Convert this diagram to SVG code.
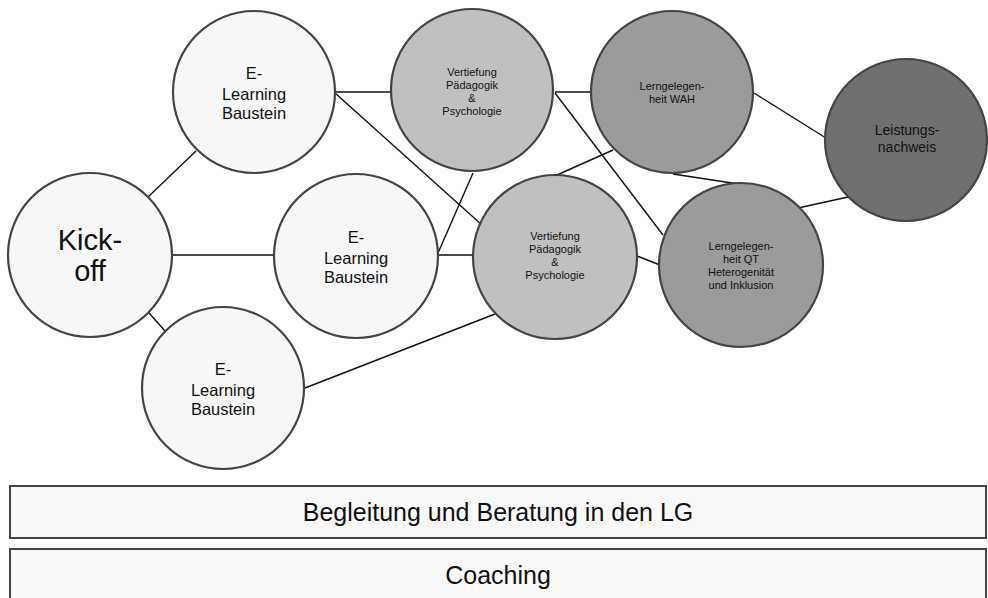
<svg xmlns="http://www.w3.org/2000/svg" width="988" height="598" viewBox="0 0 988 598">
<style>
  text { font-family: "Liberation Sans", Arial, sans-serif; fill: #111; text-anchor: middle; }
  .node { stroke: #444; stroke-width: 2.2; }
  .white { fill: #f7f7f7; }
  .light { fill: #c0c0c0; }
  .mid { fill: #9b9b9b; }
  .dark { fill: #6f6f6f; }
  .conn line { stroke: #111; stroke-width: 1.4; }
  .bar { fill: #f9f9f9; stroke: #444; stroke-width: 2; }
  .big { font-size: 29px; }
  .el { font-size: 16.5px; }
  .sm { font-size: 11px; }
  .ln { font-size: 14px; }
  .bt { font-size: 25px; }
</style>
<g id="connectors" class="conn">
  <line x1="148" y1="197" x2="196" y2="151"/>
  <line x1="173" y1="255" x2="274" y2="255"/>
  <line x1="149" y1="313" x2="165" y2="331"/>
  <line x1="335" y1="92" x2="392" y2="92"/>
  <line x1="335" y1="93" x2="482" y2="225"/>
  <line x1="473" y1="173" x2="438" y2="253"/>
  <line x1="438" y1="255" x2="474" y2="255"/>
  <line x1="305" y1="388" x2="495" y2="314"/>
  <line x1="555" y1="92" x2="590" y2="92"/>
  <line x1="555" y1="93" x2="663" y2="235"/>
  <line x1="613" y1="150" x2="557" y2="175"/>
  <line x1="637" y1="256" x2="660" y2="265"/>
  <line x1="673" y1="174" x2="745" y2="185"/>
  <line x1="754" y1="93" x2="826" y2="138"/>
  <line x1="798" y1="208" x2="848" y2="197"/>
</g>
<g id="kickoff">
  <circle class="node white" cx="90" cy="255" r="82"/>
  <text class="big" x="90" y="250">Kick-</text>
  <text class="big" x="90" y="281">off</text>
</g>
<g id="elearning1">
  <circle class="node white" cx="254" cy="92" r="81"/>
  <text class="el" x="254" y="79">E-</text>
  <text class="el" x="254" y="100">Learning</text>
  <text class="el" x="254" y="119">Baustein</text>
</g>
<g id="elearning2">
  <circle class="node white" cx="356" cy="256" r="82"/>
  <text class="el" x="356" y="243">E-</text>
  <text class="el" x="356" y="264">Learning</text>
  <text class="el" x="356" y="283">Baustein</text>
</g>
<g id="elearning3">
  <circle class="node white" cx="223" cy="388" r="81"/>
  <text class="el" x="223" y="375">E-</text>
  <text class="el" x="223" y="396">Learning</text>
  <text class="el" x="223" y="415">Baustein</text>
</g>
<g id="vertiefung1">
  <circle class="node light" cx="472" cy="90" r="81"/>
  <text class="sm" x="472" y="76">Vertiefung</text>
  <text class="sm" x="472" y="89">Pädagogik</text>
  <text class="sm" x="472" y="102">&amp;</text>
  <text class="sm" x="472" y="115">Psychologie</text>
</g>
<g id="vertiefung2">
  <circle class="node light" cx="555" cy="257" r="82"/>
  <text class="sm" x="555" y="240">Vertiefung</text>
  <text class="sm" x="555" y="253">Pädagogik</text>
  <text class="sm" x="555" y="266">&amp;</text>
  <text class="sm" x="555" y="279">Psychologie</text>
</g>
<g id="lerngelegenheit-wah">
  <circle class="node mid" cx="672" cy="92" r="81"/>
  <text class="sm" x="672" y="90">Lerngelegen-</text>
  <text class="sm" x="672" y="103">heit WAH</text>
</g>
<g id="lerngelegenheit-qt">
  <circle class="node mid" cx="741" cy="265" r="82"/>
  <text class="sm" x="741" y="250">Lerngelegen-</text>
  <text class="sm" x="741" y="263">heit QT</text>
  <text class="sm" x="741" y="276">Heterogenität</text>
  <text class="sm" x="741" y="289">und Inklusion</text>
</g>
<g id="leistungsnachweis">
  <circle class="node dark" cx="906" cy="140" r="81"/>
  <text class="ln" x="907" y="135">Leistungs-</text>
  <text class="ln" x="907" y="152">nachweis</text>
</g>
<g id="begleitung">
  <rect class="bar" x="10" y="486" width="976" height="52"/>
  <text class="bt" x="498" y="521">Begleitung und Beratung in den LG</text>
</g>
<g id="coaching">
  <rect class="bar" x="10" y="549" width="976" height="60"/>
  <text class="bt" x="498" y="584">Coaching</text>
</g>
</svg>
